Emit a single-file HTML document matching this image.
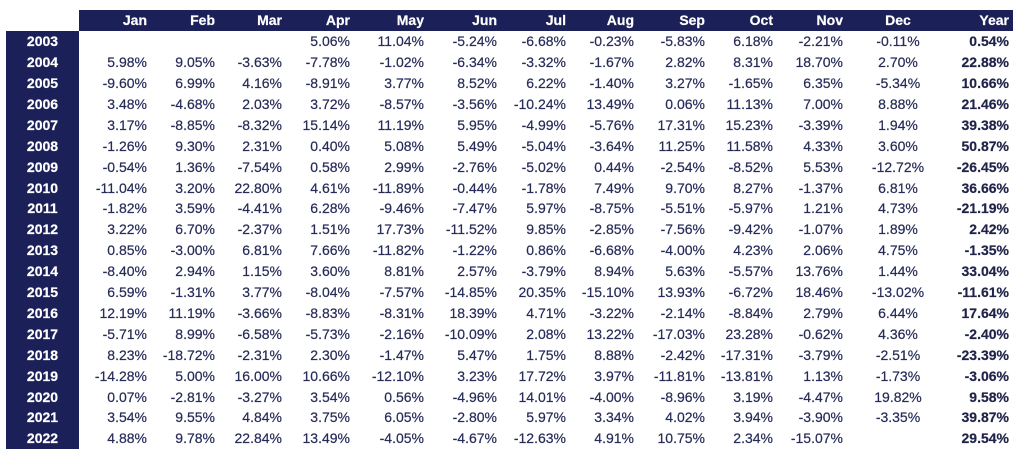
<!DOCTYPE html>
<html>
<head>
<meta charset="utf-8">
<style>
html,body{margin:0;padding:0;background:#fff;}
body{width:1024px;height:452px;position:relative;overflow:hidden;font-family:"Liberation Sans",Arial,sans-serif;font-size:14px;color:#262b58;}
.hb{position:absolute;left:79px;top:10px;width:934px;height:21px;background:#1c2058;}
.lb{position:absolute;left:6px;top:31px;width:73px;height:418px;background:#1c2058;}
.r{position:absolute;left:0;width:1024px;height:21px;line-height:21px;}
.r span{position:absolute;top:0;white-space:nowrap;-webkit-text-stroke:0.2px currentColor;}
.h{top:10px;color:#fff;font-weight:bold;}
.y{left:6px;width:73px;text-align:center;color:#fff;font-weight:bold;}
.c1{right:877px}.c2{right:809px}.c3{right:742px}.c4{right:674px}.c5{right:600px}.c6{right:527px}
.c7{right:458px}.c8{right:390px}.c9{right:319px}.c10{right:251px}.c11{right:181px}
.c12{left:848px;width:100px;text-align:center}
.c13{right:15px;font-weight:bold;color:#1f2349}
.h .c13{color:#fff}
</style>
</head>
<body>
<div class="hb"></div>
<div class="lb"></div>

<div class="r h"><span class="c1">Jan</span><span class="c2">Feb</span><span class="c3">Mar</span><span class="c4">Apr</span><span class="c5">May</span><span class="c6">Jun</span><span class="c7">Jul</span><span class="c8">Aug</span><span class="c9">Sep</span><span class="c10">Oct</span><span class="c11">Nov</span><span class="c12">Dec</span><span class="c13">Year</span></div>

<div class="r" style="top:31.2px"><span class="y">2003</span><span class="c4">5.06%</span><span class="c5">11.04%</span><span class="c6">-5.24%</span><span class="c7">-6.68%</span><span class="c8">-0.23%</span><span class="c9">-5.83%</span><span class="c10">6.18%</span><span class="c11">-2.21%</span><span class="c12">-0.11%</span><span class="c13">0.54%</span></div>
<div class="r" style="top:52.1px"><span class="y">2004</span><span class="c1">5.98%</span><span class="c2">9.05%</span><span class="c3">-3.63%</span><span class="c4">-7.78%</span><span class="c5">-1.02%</span><span class="c6">-6.34%</span><span class="c7">-3.32%</span><span class="c8">-1.67%</span><span class="c9">2.82%</span><span class="c10">8.31%</span><span class="c11">18.70%</span><span class="c12">2.70%</span><span class="c13">22.88%</span></div>
<div class="r" style="top:73.0px"><span class="y">2005</span><span class="c1">-9.60%</span><span class="c2">6.99%</span><span class="c3">4.16%</span><span class="c4">-8.91%</span><span class="c5">3.77%</span><span class="c6">8.52%</span><span class="c7">6.22%</span><span class="c8">-1.40%</span><span class="c9">3.27%</span><span class="c10">-1.65%</span><span class="c11">6.35%</span><span class="c12">-5.34%</span><span class="c13">10.66%</span></div>
<div class="r" style="top:93.9px"><span class="y">2006</span><span class="c1">3.48%</span><span class="c2">-4.68%</span><span class="c3">2.03%</span><span class="c4">3.72%</span><span class="c5">-8.57%</span><span class="c6">-3.56%</span><span class="c7">-10.24%</span><span class="c8">13.49%</span><span class="c9">0.06%</span><span class="c10">11.13%</span><span class="c11">7.00%</span><span class="c12">8.88%</span><span class="c13">21.46%</span></div>
<div class="r" style="top:114.8px"><span class="y">2007</span><span class="c1">3.17%</span><span class="c2">-8.85%</span><span class="c3">-8.32%</span><span class="c4">15.14%</span><span class="c5">11.19%</span><span class="c6">5.95%</span><span class="c7">-4.99%</span><span class="c8">-5.76%</span><span class="c9">17.31%</span><span class="c10">15.23%</span><span class="c11">-3.39%</span><span class="c12">1.94%</span><span class="c13">39.38%</span></div>
<div class="r" style="top:135.7px"><span class="y">2008</span><span class="c1">-1.26%</span><span class="c2">9.30%</span><span class="c3">2.31%</span><span class="c4">0.40%</span><span class="c5">5.08%</span><span class="c6">5.49%</span><span class="c7">-5.04%</span><span class="c8">-3.64%</span><span class="c9">11.25%</span><span class="c10">11.58%</span><span class="c11">4.33%</span><span class="c12">3.60%</span><span class="c13">50.87%</span></div>
<div class="r" style="top:156.6px"><span class="y">2009</span><span class="c1">-0.54%</span><span class="c2">1.36%</span><span class="c3">-7.54%</span><span class="c4">0.58%</span><span class="c5">2.99%</span><span class="c6">-2.76%</span><span class="c7">-5.02%</span><span class="c8">0.44%</span><span class="c9">-2.54%</span><span class="c10">-8.52%</span><span class="c11">5.53%</span><span class="c12">-12.72%</span><span class="c13">-26.45%</span></div>
<div class="r" style="top:177.5px"><span class="y">2010</span><span class="c1">-11.04%</span><span class="c2">3.20%</span><span class="c3">22.80%</span><span class="c4">4.61%</span><span class="c5">-11.89%</span><span class="c6">-0.44%</span><span class="c7">-1.78%</span><span class="c8">7.49%</span><span class="c9">9.70%</span><span class="c10">8.27%</span><span class="c11">-1.37%</span><span class="c12">6.81%</span><span class="c13">36.66%</span></div>
<div class="r" style="top:198.4px"><span class="y">2011</span><span class="c1">-1.82%</span><span class="c2">3.59%</span><span class="c3">-4.41%</span><span class="c4">6.28%</span><span class="c5">-9.46%</span><span class="c6">-7.47%</span><span class="c7">5.97%</span><span class="c8">-8.75%</span><span class="c9">-5.51%</span><span class="c10">-5.97%</span><span class="c11">1.21%</span><span class="c12">4.73%</span><span class="c13">-21.19%</span></div>
<div class="r" style="top:219.3px"><span class="y">2012</span><span class="c1">3.22%</span><span class="c2">6.70%</span><span class="c3">-2.37%</span><span class="c4">1.51%</span><span class="c5">17.73%</span><span class="c6">-11.52%</span><span class="c7">9.85%</span><span class="c8">-2.85%</span><span class="c9">-7.56%</span><span class="c10">-9.42%</span><span class="c11">-1.07%</span><span class="c12">1.89%</span><span class="c13">2.42%</span></div>
<div class="r" style="top:240.2px"><span class="y">2013</span><span class="c1">0.85%</span><span class="c2">-3.00%</span><span class="c3">6.81%</span><span class="c4">7.66%</span><span class="c5">-11.82%</span><span class="c6">-1.22%</span><span class="c7">0.86%</span><span class="c8">-6.68%</span><span class="c9">-4.00%</span><span class="c10">4.23%</span><span class="c11">2.06%</span><span class="c12">4.75%</span><span class="c13">-1.35%</span></div>
<div class="r" style="top:261.1px"><span class="y">2014</span><span class="c1">-8.40%</span><span class="c2">2.94%</span><span class="c3">1.15%</span><span class="c4">3.60%</span><span class="c5">8.81%</span><span class="c6">2.57%</span><span class="c7">-3.79%</span><span class="c8">8.94%</span><span class="c9">5.63%</span><span class="c10">-5.57%</span><span class="c11">13.76%</span><span class="c12">1.44%</span><span class="c13">33.04%</span></div>
<div class="r" style="top:282.0px"><span class="y">2015</span><span class="c1">6.59%</span><span class="c2">-1.31%</span><span class="c3">3.77%</span><span class="c4">-8.04%</span><span class="c5">-7.57%</span><span class="c6">-14.85%</span><span class="c7">20.35%</span><span class="c8">-15.10%</span><span class="c9">13.93%</span><span class="c10">-6.72%</span><span class="c11">18.46%</span><span class="c12">-13.02%</span><span class="c13">-11.61%</span></div>
<div class="r" style="top:302.9px"><span class="y">2016</span><span class="c1">12.19%</span><span class="c2">11.19%</span><span class="c3">-3.66%</span><span class="c4">-8.83%</span><span class="c5">-8.31%</span><span class="c6">18.39%</span><span class="c7">4.71%</span><span class="c8">-3.22%</span><span class="c9">-2.14%</span><span class="c10">-8.84%</span><span class="c11">2.79%</span><span class="c12">6.44%</span><span class="c13">17.64%</span></div>
<div class="r" style="top:323.8px"><span class="y">2017</span><span class="c1">-5.71%</span><span class="c2">8.99%</span><span class="c3">-6.58%</span><span class="c4">-5.73%</span><span class="c5">-2.16%</span><span class="c6">-10.09%</span><span class="c7">2.08%</span><span class="c8">13.22%</span><span class="c9">-17.03%</span><span class="c10">23.28%</span><span class="c11">-0.62%</span><span class="c12">4.36%</span><span class="c13">-2.40%</span></div>
<div class="r" style="top:344.7px"><span class="y">2018</span><span class="c1">8.23%</span><span class="c2">-18.72%</span><span class="c3">-2.31%</span><span class="c4">2.30%</span><span class="c5">-1.47%</span><span class="c6">5.47%</span><span class="c7">1.75%</span><span class="c8">8.88%</span><span class="c9">-2.42%</span><span class="c10">-17.31%</span><span class="c11">-3.79%</span><span class="c12">-2.51%</span><span class="c13">-23.39%</span></div>
<div class="r" style="top:365.6px"><span class="y">2019</span><span class="c1">-14.28%</span><span class="c2">5.00%</span><span class="c3">16.00%</span><span class="c4">10.66%</span><span class="c5">-12.10%</span><span class="c6">3.23%</span><span class="c7">17.72%</span><span class="c8">3.97%</span><span class="c9">-11.81%</span><span class="c10">-13.81%</span><span class="c11">1.13%</span><span class="c12">-1.73%</span><span class="c13">-3.06%</span></div>
<div class="r" style="top:386.5px"><span class="y">2020</span><span class="c1">0.07%</span><span class="c2">-2.81%</span><span class="c3">-3.27%</span><span class="c4">3.54%</span><span class="c5">0.56%</span><span class="c6">-4.96%</span><span class="c7">14.01%</span><span class="c8">-4.00%</span><span class="c9">-8.96%</span><span class="c10">3.19%</span><span class="c11">-4.47%</span><span class="c12">19.82%</span><span class="c13">9.58%</span></div>
<div class="r" style="top:407.4px"><span class="y">2021</span><span class="c1">3.54%</span><span class="c2">9.55%</span><span class="c3">4.84%</span><span class="c4">3.75%</span><span class="c5">6.05%</span><span class="c6">-2.80%</span><span class="c7">5.97%</span><span class="c8">3.34%</span><span class="c9">4.02%</span><span class="c10">3.94%</span><span class="c11">-3.90%</span><span class="c12">-3.35%</span><span class="c13">39.87%</span></div>
<div class="r" style="top:428.3px"><span class="y">2022</span><span class="c1">4.88%</span><span class="c2">9.78%</span><span class="c3">22.84%</span><span class="c4">13.49%</span><span class="c5">-4.05%</span><span class="c6">-4.67%</span><span class="c7">-12.63%</span><span class="c8">4.91%</span><span class="c9">10.75%</span><span class="c10">2.34%</span><span class="c11">-15.07%</span><span class="c13">29.54%</span></div>
</body>
</html>
